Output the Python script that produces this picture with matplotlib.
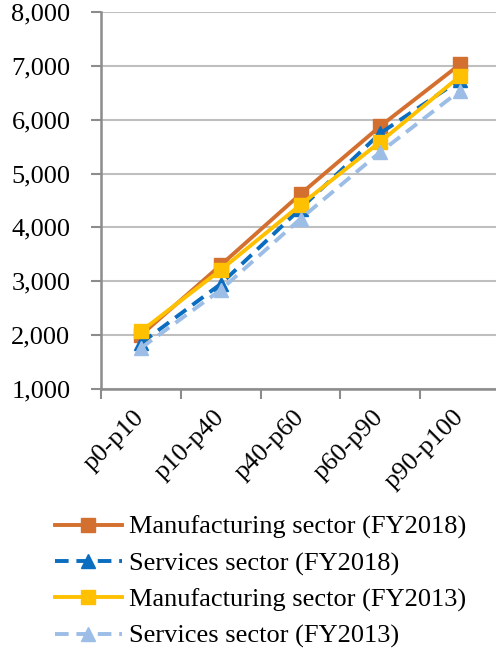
import matplotlib
matplotlib.use("Agg")
import matplotlib.pyplot as plt
import numpy as np
from matplotlib.ticker import FuncFormatter, FixedLocator

categories = ["p0-p10", "p10-p40", "p40-p60", "p60-p90", "p90-p100"]
manuf_2018 = [2000, 3300, 4620, 5880, 7030]
serv_2018 = [1850, 2950, 4350, 5750, 6740]
manuf_2013 = [2070, 3210, 4420, 5590, 6810]
serv_2013 = [1760, 2840, 4160, 5400, 6540]
labels = ["Manufacturing sector (FY2018)", "Services sector (FY2018)",
          "Manufacturing sector (FY2013)", "Services sector (FY2013)"]

plt.rcParams['font.family'] = ['Liberation Serif', 'DejaVu Serif']

fig = plt.figure(figsize=(4.96, 6.49), dpi=100)
W, H = 496, 649
ax = fig.add_axes([101 / W, 1 - 389 / H, (500 - 101) / W, (389 - 12) / H])

x = np.arange(len(categories))
ax.plot(x, manuf_2018, color="#D4702F", lw=2.8, marker="s", ms=10,
        label=labels[0], zorder=3)
ax.plot(x, serv_2018, color="#0A6DC0", lw=2.8, ls=(0, (3.5, 2)), marker="^",
        ms=10, label=labels[1], zorder=4)
ax.plot(x, manuf_2013, color="#FFC000", lw=2.8, marker="s", ms=10,
        label=labels[2], zorder=5)
ax.plot(x, serv_2013, color="#9CBDE6", lw=2.8, ls=(0, (3.5, 2)), marker="^",
        ms=10, label=labels[3], zorder=6)

ax.set_xlim(-0.5, len(categories) - 0.5)
ax.set_ylim(1000, 8000)
ax.set_yticks(np.arange(1000, 8001, 1000))
ax.yaxis.set_major_formatter(FuncFormatter(lambda v, p: f"{int(v):,}"))
ax.grid(axis="y", color="#BFBFBF", lw=1.5, zorder=0)
ax.set_axisbelow(True)

ax.set_xticks(x)
ax.set_xticklabels(categories, rotation=45, ha="right", va="center",
                   rotation_mode="anchor", fontsize=19)
ax.tick_params(axis="x", which="major", length=0, pad=18)
ax.xaxis.set_minor_locator(FixedLocator(np.arange(-0.5, len(categories), 1.0)))
ax.tick_params(axis="x", which="minor", length=7, color="#8C8C8C", width=1.5)
ax.tick_params(axis="y", length=7, color="#8C8C8C", width=1.5, labelsize=19, pad=15)

for s in ["top", "right"]:
    ax.spines[s].set_visible(False)
for s in ["left", "bottom"]:
    ax.spines[s].set_color("#8C8C8C")
    ax.spines[s].set_linewidth(1.8)

leg = fig.legend(loc="upper left", bbox_to_anchor=(44 / W, 1 - 505 / H),
                 frameon=False, fontsize=19, handlelength=2.55,
                 handletextpad=0.27, labelspacing=0.47, borderaxespad=0)

fig.savefig("out.png", dpi=100)
